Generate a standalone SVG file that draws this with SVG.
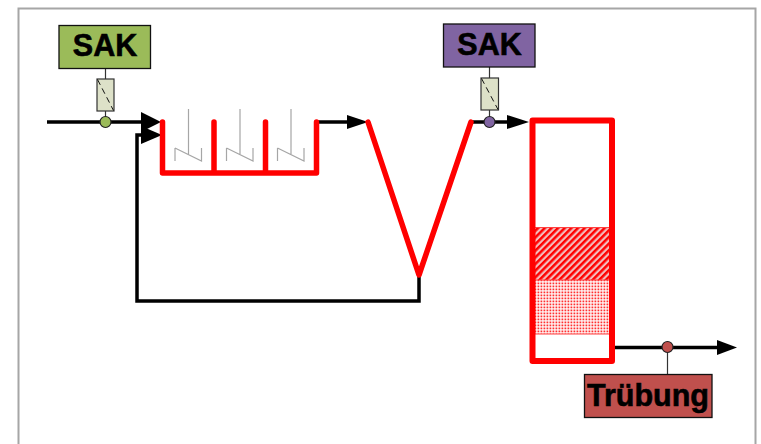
<svg xmlns="http://www.w3.org/2000/svg" width="761" height="444" viewBox="0 0 761 444">
<style>
.flow{fill:none;stroke:#000;stroke-width:3.5}
.red{fill:none;stroke:#f00;stroke-width:5.500;stroke-linejoin:round;stroke-linecap:round}
.col{stroke-width:6}
.mix{fill:none;stroke:#a6a6a6;stroke-width:1.2}
.box{stroke:#111;stroke-width:1.3}
.stem{stroke:#333;stroke-width:1.2;fill:none}
.sensor{fill:#dde1c8;stroke:#333;stroke-width:1.2}
.dash{stroke:#111;stroke-width:1;stroke-dasharray:6 4;fill:none}
.dot{stroke:#222;stroke-width:1.2}
.lbl{font-family:"Liberation Sans",Arial,sans-serif;font-weight:700;font-size:30.500px;fill:#000;stroke:#000;stroke-width:0.6;text-anchor:middle}
</style>
<defs>
<pattern id="hatch" width="4.700" height="4.700" patternUnits="userSpaceOnUse" patternTransform="rotate(45)">
<rect width="4.700" height="4.700" fill="#f3bcbc"/><rect width="2.500" height="4.700" fill="#f00"/>
</pattern>
<pattern id="dots" width="3" height="3" patternUnits="userSpaceOnUse">
<rect width="3" height="3" fill="#fff"/><rect x="0.500" y="0.500" width="1.800" height="1.800" fill="#ff3030"/>
</pattern>
</defs>
<path d="M18.500 444V8.500H755.500V444" fill="none" stroke="#a6a6a6" stroke-width="2"/>

<g id="connectors">
<path class="flow" d="M47 122H142"/>
<polygon points="141,112 161,122 141,132" fill="#000"/>
<path class="flow" d="M141 135H137V301H419V275"/>
<polygon points="141,126 162,135 141,144" fill="#000"/>
<path class="flow" d="M317 122H348"/>
<polygon points="347,115 368,122 347,129" fill="#000"/>
<path class="flow" d="M471 122H508"/>
<polygon points="507,115 529,122 507,129" fill="#000"/>
<path class="flow" d="M614 347.500H718"/>
<polygon points="717,340 737,347.500 717,355" fill="#000"/>
</g>

<g id="tank">
<path class="red" d="M162.500 122V173H316.500V122M214 122V173M265.500 122V173"/>
<path class="mix" d="M188.500 109V155M175 148V161M175 148L201.500 161V148"/>
<path class="mix" d="M240 109V155M226.500 148V161M226.500 148L253 161V148"/>
<path class="mix" d="M291 109V155M277.500 148V161M277.500 148L304 161V148"/>
</g>

<g id="settler">
<path class="red" d="M368 122L419 275L471 122"/>
</g>

<g id="filter">
<rect x="535" y="227" width="74" height="53" fill="url(#hatch)"/>
<rect x="535" y="280" width="74" height="54" fill="url(#dots)"/>
<path d="M535 227.500H609M535 280H609M535 334H609" stroke="#ff4040" stroke-width="1" fill="none"/>
<rect class="red col" x="532.500" y="120.500" width="79.500" height="240.500"/>
</g>

<g id="sak1">
<path class="stem" d="M105.500 68V79M105.500 111V117"/>
<rect class="sensor" x="97" y="79" width="17" height="32"/>
<path class="dash" d="M97.500 79.500L113.500 110.500"/>
<circle class="dot" cx="105.500" cy="122" r="5.500" fill="#9bbb59"/>
<rect class="box" x="59" y="25.500" width="91.500" height="43" fill="#9bbb59"/>
<text class="lbl" x="105" y="55.500">SAK</text>
</g>

<g id="sak2">
<path class="stem" d="M489.500 67V78M489.500 110V117"/>
<rect class="sensor" x="481" y="78" width="17.500" height="32"/>
<path class="dash" d="M481.500 78.500L498 109.500"/>
<circle class="dot" cx="489.500" cy="122" r="5.500" fill="#8064a2"/>
<rect class="box" x="443.500" y="24" width="91.500" height="43" fill="#8064a2"/>
<text class="lbl" x="489.500" y="54.500">SAK</text>
</g>

<g id="truebung">
<path class="stem" d="M667.500 352V374"/>
<circle class="dot" cx="667.500" cy="347" r="5.500" fill="#c0504d"/>
<rect class="box" x="584.500" y="374.500" width="127.500" height="43" fill="#c0504d"/>
<text class="lbl" x="648" y="406">Trübung</text>
</g>
</svg>
